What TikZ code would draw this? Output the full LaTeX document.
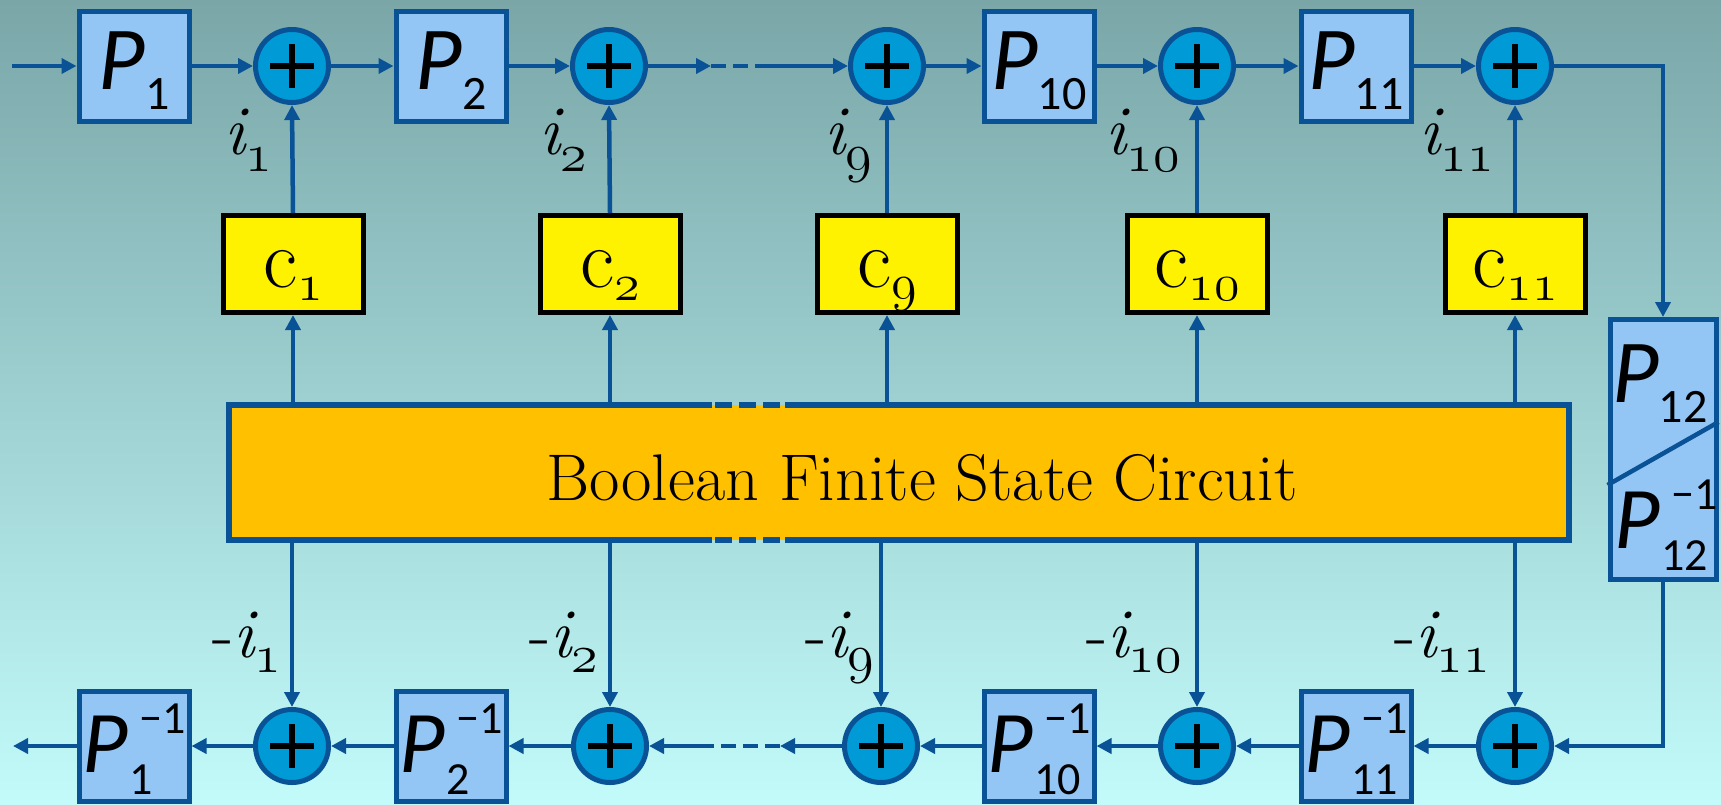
\RequirePackage{fix-cm}
\documentclass[tikz,border=0pt]{standalone}
\usepackage{fontspec}
\newfontfamily\calib{Carlito}
\usetikzlibrary{arrows.meta}
\definecolor{lineblue}{RGB}{10,82,150}
\definecolor{pfill}{RGB}{147,197,245}
\definecolor{sumfill}{RGB}{0,155,214}
\definecolor{orangefill}{RGB}{255,192,0}
\definecolor{bgtop}{RGB}{122,166,168}
\definecolor{bgmid}{RGB}{164,214,216}
\definecolor{bgbot}{RGB}{194,251,250}
\newcommand{\osn}[1]{{\usefont{OML}{cmm}{m}{it}#1}}
\newcommand{\Pn}[1]{{\calib\fontsize{90}{90}\selectfont\itshape P}\raisebox{-20pt}{\calib\fontsize{48}{48}\selectfont #1}}
\newcommand{\Pinv}[1]{{\calib\fontsize{88}{88}\selectfont\itshape P}\kern1pt\rlap{\raisebox{-22pt}{\calib\fontsize{46}{46}\selectfont #1}}\kern10pt\raisebox{39pt}{\calib\fontsize{46}{46}\selectfont −1}}
\newcommand{\ilab}[1]{{\fontsize{70}{70}\selectfont\itshape i}\raisebox{-17pt}{\fontsize{54}{54}\selectfont\osn{#1}}}
\newcommand{\milab}[1]{{\fontsize{70}{70}\selectfont -\itshape i}\raisebox{-15pt}{\fontsize{54}{54}\selectfont\osn{#1}}}
\newcommand{\clab}[1]{{\fontsize{84}{84}\selectfont c}\raisebox{-13pt}{\fontsize{52}{52}\selectfont\osn{#1}}}
\begin{document}
\begin{tikzpicture}[x=1pt,y=-1pt,
  conn/.style={draw=lineblue,line width=4.5pt},
  arr/.style={conn,-{Triangle[length=15pt,width=15pt]}},
  dashconn/.style={conn,dash pattern=on 15pt off 7pt},
  pbox/.style={draw=lineblue,fill=pfill,line width=5pt,minimum width=110pt,minimum height=110pt,inner sep=0pt,text height=46pt,text depth=0pt},
  pinvbox/.style={pbox,text height=52pt},
  p12box/.style={draw=lineblue,fill=pfill,line width=5pt,minimum width=106pt,minimum height=260pt,inner sep=0pt},
  sumc/.style={circle,draw=lineblue,fill=sumfill,line width=5pt,minimum size=73pt,inner sep=0pt,
    path picture={\draw[black,line width=6pt]
      ([xshift=-22pt]path picture bounding box.center) -- ([xshift=22pt]path picture bounding box.center)
      ([yshift=-22pt]path picture bounding box.center) -- ([yshift=22pt]path picture bounding box.center);}},
  cbox/.style={draw=black,fill=yellow,line width=5pt,minimum width=140pt,minimum height=97pt,inner sep=0pt,text height=46pt,text depth=0pt},
  obox/.style={fill=orangefill,minimum width=1340pt,minimum height=135pt,inner sep=0pt,outer sep=0pt},
  oborder/.style={draw=lineblue,line width=6pt},
  lab/.style={inner sep=0pt,anchor=base east}]
\shade[top color=bgtop,middle color=bgmid,bottom color=bgbot] (0,0) rectangle (1721,804);
\useasboundingbox (0,0) rectangle (1721,804);

% top row
\coordinate (in) at (12,66);
\node[pbox] (tp1) at (134,66) {\Pn{1}};
\node[sumc] (ts1) at (292,66) {};
\node[pbox] (tp2) at (451,66) {\Pn{2}};
\node[sumc] (ts2) at (609,66) {};
\coordinate (d1) at (711,66);
\coordinate (d2) at (761,66);
\node[sumc] (ts3) at (887,66) {};
\node[pbox] (tp10) at (1039,66) {\Pn{10}};
\node[sumc] (ts4) at (1197,66) {};
\node[pbox] (tp11) at (1356,66) {\Pn{11}};
\node[sumc] (ts5) at (1515,66) {};

% P12 box
\node[p12box] (p12) at (1663,449.5) {};
\draw[conn] (p12.west |- 0,485) -- (p12.east |- 0,422);
\node[inner sep=0pt,anchor=base] (p12t) at (1660,402) {\Pn{12}};
\node[inner sep=0pt,anchor=base] (p12b) at (1666,548) {\Pinv{12}};

% c boxes
\node[cbox] (c1) at (293,264) {\clab{1}};
\node[cbox] (c2) at (610,264) {\clab{2}};
\node[cbox] (c9) at (887,264) {\clab{9}};
\node[cbox] (c10) at (1197,264) {\clab{10}};
\node[cbox] (c11) at (1515,264) {\clab{11}};

% orange box
\node[obox] (bfsc) at (899,472.5) {};
\draw[oborder] (bfsc.north -| 712,0) -- (bfsc.north west) -- (bfsc.south west) -- (bfsc.south -| 712,0);
\draw[oborder] (bfsc.north -| 785,0) -- (bfsc.north east) -- (bfsc.south east) -- (bfsc.south -| 785,0);
\draw[oborder,dash pattern=on 17pt off 7pt] (bfsc.north -| 715,0) -- (bfsc.north -| 785,0);
\draw[oborder,dash pattern=on 17pt off 7pt] (bfsc.south -| 715,0) -- (bfsc.south -| 785,0);
\node[inner sep=0pt,anchor=base] (bfsctext) at (922,500) {\fontsize{66}{66}\selectfont Boolean Finite State Circuit};

% bottom row
\coordinate (out) at (13,746);
\node[pinvbox] (bp1) at (134,746) {\Pinv{1}};
\node[sumc] (bs1) at (292,746) {};
\node[pinvbox] (bp2) at (451,746) {\Pinv{2}};
\node[sumc] (bs2) at (610,746) {};
\coordinate (d3) at (780,746);
\coordinate (d4) at (713,746);
\node[sumc] (bs3) at (881,746) {};
\node[pinvbox] (bp10) at (1039,746) {\Pinv{10}};
\node[sumc] (bs4) at (1197,746) {};
\node[pinvbox] (bp11) at (1356,746) {\Pinv{11}};
\node[sumc] (bs5) at (1515,746) {};

% labels
\node[lab] (li1) at (272,154) {\ilab{1}};
\node[lab] (li2) at (587,154) {\ilab{2}};
\node[lab] (li9) at (872,154) {\ilab{9}};
\node[lab] (li10) at (1180,154) {\ilab{10}};
\node[lab] (li11) at (1494,154) {\ilab{11}};
\node[lab] (lm1) at (281,657) {\milab{1}};
\node[lab] (lm2) at (598,657) {\milab{2}};
\node[lab] (lm9) at (874,657) {\milab{9}};
\node[lab] (lm10) at (1182,657) {\milab{10}};
\node[lab] (lm11) at (1490,657) {\milab{11}};

% top connectors
\draw[arr] (in) -- (tp1.west);
\draw[arr] (tp1.east) -- (ts1.west);
\draw[arr] (ts1.east) -- (tp2.west);
\draw[arr] (tp2.east) -- (ts2.west);
\draw[arr] (ts2.east) -- (d1);
\draw[dashconn] (d1) -- (d2);
\draw[arr] (d2) -- (ts3.west);
\draw[arr] (ts3.east) -- (tp10.west);
\draw[arr] (tp10.east) -- (ts4.west);
\draw[arr] (ts4.east) -- (tp11.west);
\draw[arr] (tp11.east) -- (ts5.west);
\draw[arr] (ts5.east) -| (p12.north);

% vertical connectors
\foreach \c/\s in {c1/ts1,c2/ts2,c9/ts3,c10/ts4,c11/ts5}{
  \draw[arr] (\c.north) -- (\s.south);
  \draw[arr] (bfsc.north -| \c) -- (\c.south);
}
\foreach \s in {bs1,bs2,bs3,bs4,bs5}{
  \draw[arr] (bfsc.south -| \s) -- (\s.north);
}

% bottom connectors
\draw[arr] (p12.south) |- (bs5.east);
\draw[arr] (bs5.west) -- (bp11.east);
\draw[arr] (bp11.west) -- (bs4.east);
\draw[arr] (bs4.west) -- (bp10.east);
\draw[arr] (bp10.west) -- (bs3.east);
\draw[arr] (bs3.west) -- (d3);
\draw[dashconn] (d3) -- (d4);
\draw[arr] (d4) -- (bs2.east);
\draw[arr] (bs2.west) -- (bp2.east);
\draw[arr] (bp2.west) -- (bs1.east);
\draw[arr] (bs1.west) -- (bp1.east);
\draw[arr] (bp1.west) -- (out);
\end{tikzpicture}
\end{document}
